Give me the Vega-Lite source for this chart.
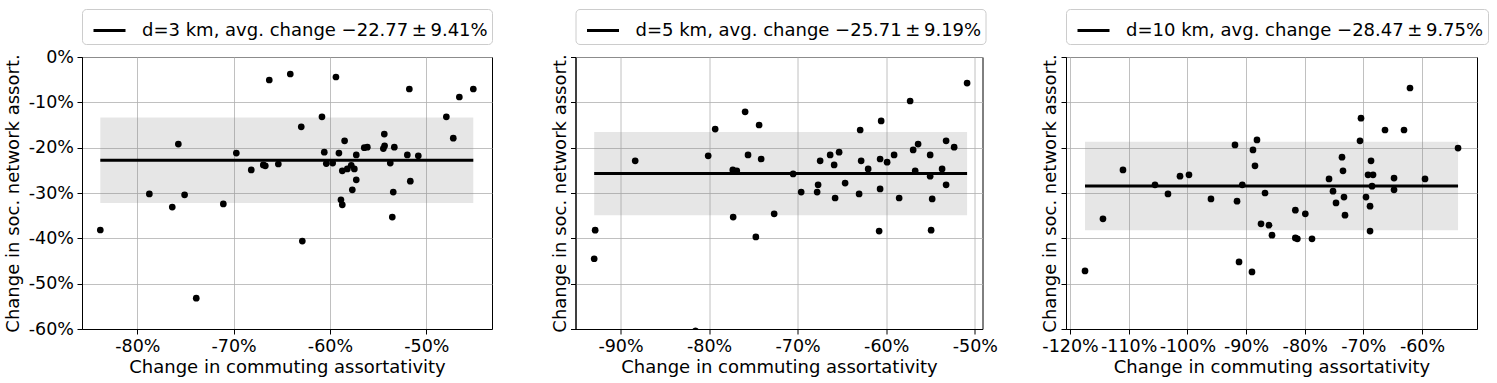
{
  "$schema": "https://vega.github.io/schema/vega-lite/v6.json",
  "padding": {"left": 3, "top": 8, "right": 5, "bottom": 2},
  "bounds": "flush",
  "spacing": 83.5,
  "config": {
    "font": "DejaVu Sans",
    "view": {"stroke": "black", "strokeWidth": 1},
    "axis": {
      "labelFont": "DejaVu Sans", "labelFontSize": 17.5, "labelColor": "black",
      "titleFont": "DejaVu Sans", "titleFontSize": 18, "titleFontWeight": "normal", "titleColor": "black",
      "domainColor": "black", "tickColor": "black", "tickSize": 5, "labelPadding": 3.5,
      "gridColor": "#b0b0b0", "gridWidth": 0.8, "labelOverlap": false, "labelFlush": false
    },
    "legend": {
      "orient": "top", "offset": 13, "labelFont": "DejaVu Sans", "labelFontSize": 18, "labelColor": "black",
      "labelLimit": 1000,
      "symbolType": "stroke", "symbolSize": 1024, "symbolStrokeWidth": 3, "labelOffset": 15, "symbolOffset": 6,
      "padding": 4, "strokeColor": "#cccccc", "cornerRadius": 4, "fillColor": "white"
    }
  },
  "datasets": {
    "p1": [
      {"x": -83.84, "y": -38.16}, {"x": -78.75, "y": -30.2}, {"x": -76.37, "y": -33.1}, {"x": -75.74, "y": -19.2},
      {"x": -75.09, "y": -30.4}, {"x": -73.88, "y": -53.2}, {"x": -71.07, "y": -32.4}, {"x": -69.72, "y": -21.2},
      {"x": -68.17, "y": -24.9}, {"x": -66.92, "y": -23.8}, {"x": -66.71, "y": -24.0}, {"x": -66.30, "y": -5.07},
      {"x": -65.36, "y": -23.6}, {"x": -64.12, "y": -3.75}, {"x": -62.98, "y": -15.4}, {"x": -62.87, "y": -40.6},
      {"x": -60.83, "y": -13.2}, {"x": -60.59, "y": -21.0}, {"x": -60.38, "y": -23.5}, {"x": -59.72, "y": -23.4},
      {"x": -59.38, "y": -4.41}, {"x": -59.07, "y": -21.2}, {"x": -58.86, "y": -31.5}, {"x": -58.72, "y": -32.6},
      {"x": -58.72, "y": -25.1}, {"x": -58.48, "y": -18.5}, {"x": -58.20, "y": -24.7}, {"x": -57.79, "y": -23.9},
      {"x": -57.68, "y": -29.3}, {"x": -57.47, "y": -24.7}, {"x": -57.27, "y": -21.6}, {"x": -57.27, "y": -27.1},
      {"x": -56.44, "y": -20.0}, {"x": -56.12, "y": -19.9}, {"x": -54.46, "y": -20.2}, {"x": -54.36, "y": -17.0},
      {"x": -54.33, "y": -19.6}, {"x": -53.74, "y": -23.4}, {"x": -53.53, "y": -35.3}, {"x": -53.43, "y": -29.8},
      {"x": -53.32, "y": -19.9}, {"x": -51.97, "y": -21.6}, {"x": -51.76, "y": -7.06}, {"x": -51.66, "y": -27.4},
      {"x": -50.83, "y": -21.8}, {"x": -47.92, "y": -13.2}, {"x": -47.20, "y": -17.9}, {"x": -46.57, "y": -8.82},
      {"x": -45.12, "y": -7.06}
    ],
    "p2": [
      {"x": -92.97, "y": -44.5}, {"x": -92.86, "y": -38.2}, {"x": -88.34, "y": -22.9}, {"x": -81.53, "y": -60.4},
      {"x": -80.10, "y": -21.8}, {"x": -79.31, "y": -15.9}, {"x": -77.32, "y": -24.9}, {"x": -77.28, "y": -35.3},
      {"x": -76.87, "y": -25.1}, {"x": -75.93, "y": -12.1}, {"x": -75.60, "y": -21.6}, {"x": -74.72, "y": -39.7},
      {"x": -74.35, "y": -15.0}, {"x": -74.12, "y": -22.5}, {"x": -72.65, "y": -34.6}, {"x": -70.51, "y": -25.8},
      {"x": -69.60, "y": -29.8}, {"x": -67.80, "y": -29.8}, {"x": -67.69, "y": -28.2}, {"x": -67.46, "y": -22.9},
      {"x": -66.33, "y": -21.6}, {"x": -65.88, "y": -23.8}, {"x": -65.77, "y": -31.1}, {"x": -65.32, "y": -21.0},
      {"x": -64.64, "y": -27.8}, {"x": -63.06, "y": -30.2}, {"x": -62.94, "y": -16.1}, {"x": -62.83, "y": -22.9},
      {"x": -62.04, "y": -24.7}, {"x": -60.80, "y": -38.4}, {"x": -60.69, "y": -22.5}, {"x": -60.69, "y": -29.1},
      {"x": -60.57, "y": -14.1}, {"x": -59.90, "y": -23.2}, {"x": -59.11, "y": -21.6}, {"x": -58.54, "y": -31.1},
      {"x": -57.30, "y": -9.71}, {"x": -56.96, "y": -20.5}, {"x": -56.73, "y": -25.1}, {"x": -56.40, "y": -19.2},
      {"x": -55.04, "y": -21.6}, {"x": -55.04, "y": -26.3}, {"x": -54.93, "y": -38.2}, {"x": -54.81, "y": -31.3},
      {"x": -53.69, "y": -24.7}, {"x": -53.24, "y": -18.5}, {"x": -53.24, "y": -28.2}, {"x": -52.33, "y": -19.9},
      {"x": -50.87, "y": -5.74}
    ],
    "p3": [
      {"x": -117.44, "y": -47.2}, {"x": -114.38, "y": -35.7}, {"x": -110.97, "y": -24.9}, {"x": -105.51, "y": -28.2},
      {"x": -103.30, "y": -30.2}, {"x": -101.25, "y": -26.3}, {"x": -99.72, "y": -26.0}, {"x": -95.97, "y": -31.3},
      {"x": -91.88, "y": -19.4}, {"x": -91.53, "y": -31.8}, {"x": -91.19, "y": -45.2}, {"x": -90.63, "y": -28.2},
      {"x": -88.98, "y": -47.4}, {"x": -88.81, "y": -20.5}, {"x": -88.47, "y": -24.0}, {"x": -88.13, "y": -18.3},
      {"x": -87.44, "y": -36.8}, {"x": -86.76, "y": -30.0}, {"x": -86.08, "y": -37.1}, {"x": -85.57, "y": -39.3},
      {"x": -81.59, "y": -33.8}, {"x": -81.59, "y": -39.9}, {"x": -81.25, "y": -40.1}, {"x": -79.89, "y": -34.6},
      {"x": -78.75, "y": -40.1}, {"x": -75.85, "y": -26.9}, {"x": -75.17, "y": -29.6}, {"x": -74.66, "y": -32.2},
      {"x": -73.64, "y": -22.1}, {"x": -73.47, "y": -25.1}, {"x": -73.30, "y": -30.9}, {"x": -73.13, "y": -34.9},
      {"x": -70.57, "y": -18.5}, {"x": -70.40, "y": -13.5}, {"x": -69.55, "y": -30.9}, {"x": -69.20, "y": -26.0},
      {"x": -68.86, "y": -32.9}, {"x": -68.86, "y": -38.4}, {"x": -68.69, "y": -22.9}, {"x": -68.52, "y": -28.5},
      {"x": -68.35, "y": -26.0}, {"x": -66.31, "y": -16.1}, {"x": -64.77, "y": -26.7}, {"x": -64.77, "y": -29.3},
      {"x": -63.07, "y": -16.1}, {"x": -62.05, "y": -6.84}, {"x": -59.49, "y": -26.9}, {"x": -53.86, "y": -20.1}
    ],
    "s1": [{"label": "d=3 km, avg. change \u221222.77\u2009\u00b1\u20099.41%", "xmin": -83.84, "xmax": -45.12, "mean": -22.77, "lo": -32.18, "hi": -13.36}],
    "s2": [{"label": "d=5 km, avg. change \u221225.71\u2009\u00b1\u20099.19%", "xmin": -92.97, "xmax": -50.87, "mean": -25.71, "lo": -34.90, "hi": -16.52}],
    "s3": [{"label": "d=10 km, avg. change \u221228.47\u2009\u00b1\u20099.75%", "xmin": -117.44, "xmax": -53.86, "mean": -28.47, "lo": -38.22, "hi": -18.72}]
  },
  "hconcat": [
    {
      "width": 410, "height": 272,
      "layer": [
        {
          "data": {"name": "s1"},
          "mark": {"type": "rect", "fill": "#808080", "fillOpacity": 0.2},
          "encoding": {
            "x": {"field": "xmin", "type": "quantitative", "scale": {"domain": [-85.74, -43.18], "nice": false, "zero": false},
                  "axis": {"values": [-80, -70, -60, -50], "labelExpr": "datum.value + '%'", "title": "Change in commuting assortativity", "titlePadding": 3}},
            "x2": {"field": "xmax"},
            "y": {"field": "lo", "type": "quantitative", "scale": {"domain": [-60, 0], "nice": false, "zero": false},
                  "axis": {"values": [-60, -50, -40, -30, -20, -10, 0], "labelExpr": "datum.value + '%'", "title": "Change in soc. network assort.", "titlePadding": 6}},
            "y2": {"field": "hi"}
          }
        },
        {
          "data": {"name": "p1"},
          "mark": {"type": "point", "filled": true, "size": 45, "color": "black", "opacity": 1, "clip": true},
          "encoding": {
            "x": {"field": "x", "type": "quantitative"},
            "y": {"field": "y", "type": "quantitative"}
          }
        },
        {
          "data": {"name": "s1"},
          "mark": {"type": "rule", "strokeWidth": 3},
          "encoding": {
            "x": {"field": "xmin", "type": "quantitative"},
            "x2": {"field": "xmax"},
            "y": {"field": "mean", "type": "quantitative"},
            "color": {"field": "label", "type": "nominal", "scale": {"range": ["black"]}, "legend": {"title": null}}
          }
        }
      ]
    },
    {
      "width": 407, "height": 272,
      "layer": [
        {
          "data": {"name": "s2"},
          "mark": {"type": "rect", "fill": "#808080", "fillOpacity": 0.2},
          "encoding": {
            "x": {"field": "xmin", "type": "quantitative", "scale": {"domain": [-95.08, -49.13], "nice": false, "zero": false},
                  "axis": {"values": [-90, -80, -70, -60, -50], "labelExpr": "datum.value + '%'", "title": "Change in commuting assortativity", "titlePadding": 3}},
            "x2": {"field": "xmax"},
            "y": {"field": "lo", "type": "quantitative", "scale": {"domain": [-60, 0], "nice": false, "zero": false},
                  "axis": {"values": [-60, -50, -40, -30, -20, -10, 0], "labels": false, "title": "Change in soc. network assort.", "titlePadding": 1}},
            "y2": {"field": "hi"}
          }
        },
        {
          "data": {"name": "p2"},
          "mark": {"type": "point", "filled": true, "size": 45, "color": "black", "opacity": 1, "clip": true},
          "encoding": {
            "x": {"field": "x", "type": "quantitative"},
            "y": {"field": "y", "type": "quantitative"}
          }
        },
        {
          "data": {"name": "s2"},
          "mark": {"type": "rule", "strokeWidth": 3},
          "encoding": {
            "x": {"field": "xmin", "type": "quantitative"},
            "x2": {"field": "xmax"},
            "y": {"field": "mean", "type": "quantitative"},
            "color": {"field": "label", "type": "nominal", "scale": {"range": ["black"]}, "legend": {"title": null}}
          }
        }
      ]
    },
    {
      "width": 411, "height": 272,
      "layer": [
        {
          "data": {"name": "s3"},
          "mark": {"type": "rect", "fill": "#808080", "fillOpacity": 0.2},
          "encoding": {
            "x": {"field": "xmin", "type": "quantitative", "scale": {"domain": [-120.68, -50.63], "nice": false, "zero": false},
                  "axis": {"values": [-120, -110, -100, -90, -80, -70, -60], "labelExpr": "datum.value + '%'", "title": "Change in commuting assortativity", "titlePadding": 3}},
            "x2": {"field": "xmax"},
            "y": {"field": "lo", "type": "quantitative", "scale": {"domain": [-60, 0], "nice": false, "zero": false},
                  "axis": {"values": [-60, -50, -40, -30, -20, -10, 0], "labels": false, "title": "Change in soc. network assort.", "titlePadding": 1}},
            "y2": {"field": "hi"}
          }
        },
        {
          "data": {"name": "p3"},
          "mark": {"type": "point", "filled": true, "size": 45, "color": "black", "opacity": 1, "clip": true},
          "encoding": {
            "x": {"field": "x", "type": "quantitative"},
            "y": {"field": "y", "type": "quantitative"}
          }
        },
        {
          "data": {"name": "s3"},
          "mark": {"type": "rule", "strokeWidth": 3},
          "encoding": {
            "x": {"field": "xmin", "type": "quantitative"},
            "x2": {"field": "xmax"},
            "y": {"field": "mean", "type": "quantitative"},
            "color": {"field": "label", "type": "nominal", "scale": {"range": ["black"]}, "legend": {"title": null}}
          }
        }
      ]
    }
  ],
  "resolve": {"scale": {"x": "independent", "color": "independent"}, "legend": {"color": "independent"}}
}
